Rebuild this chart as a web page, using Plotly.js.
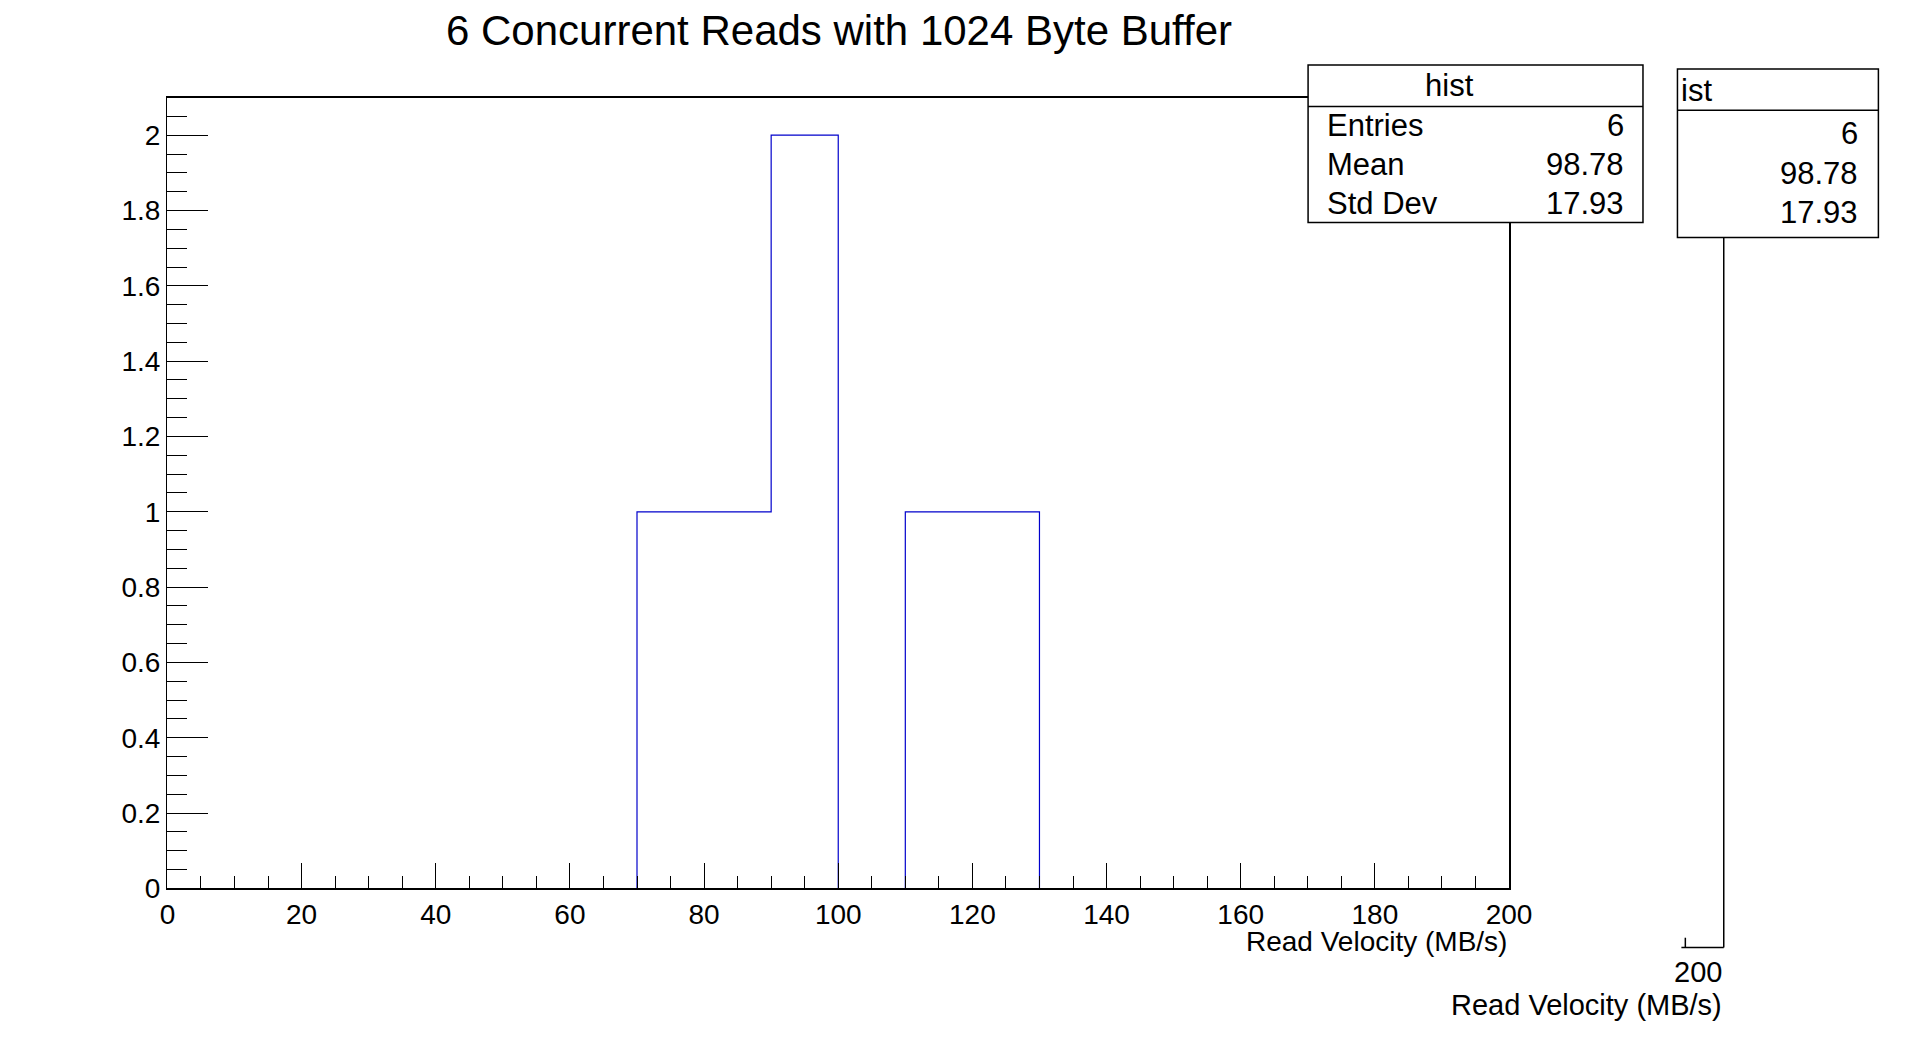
<!DOCTYPE html>
<html><head><meta charset="utf-8">
<script src="https://cdn.plot.ly/plotly-3.0.1.min.js"></script>
<style>html,body{margin:0;padding:0;background:#fff}#c{width:1918px;height:1054px}</style>
</head><body><div id="c"></div>
<script>
// histogram: 20 bins of 10 MB/s between 0 and 200
const binEdges = [0,10,20,30,40,50,60,70,80,90,100,110,120,130,140,150,160,170,180,190,200];
const binCounts = [0,0,0,0,0,0,0,1,1,2,0,1,1,0,0,0,0,0,0,0];
const statLabels = ['Entries', 'Mean', 'Std Dev'];
const statValues = ['6', '98.78', '17.93'];

const W = 1918, H = 1054, S = 0.985;
const px = x => x * S / W, py = y => 1 - y * S / H;
const F = 'Liberation Sans, Arial, sans-serif';

// step outline
const sx = [], sy = [];
binCounts.forEach((c, i) => { sx.push(binEdges[i]); sy.push(c); });
sx.push(binEdges[binEdges.length - 1]); sy.push(binCounts[binCounts.length - 1]);

const shapes = [
  // stat box
  {type:'rect', xref:'paper', yref:'paper', x0:px(1328), x1:px(1668), y0:py(226), y1:py(66), line:{color:'#000',width:1.5}, fillcolor:'#fff', layer:'above'},
  {type:'line', xref:'paper', yref:'paper', x0:px(1328), x1:px(1668), y0:py(108), y1:py(108), line:{color:'#000',width:1.5}, layer:'above'},
  // ghost box
  {type:'rect', xref:'paper', yref:'paper', x0:px(1703), x1:px(1907), y0:py(241), y1:py(70), line:{color:'#000',width:1.5}, fillcolor:'#fff'},
  {type:'line', xref:'paper', yref:'paper', x0:px(1703), x1:px(1907), y0:py(112), y1:py(112), line:{color:'#000',width:1.5}},
  {type:'line', xref:'paper', yref:'paper', x0:px(1750), x1:px(1750), y0:py(241), y1:py(962), line:{color:'#000',width:1.5}},
  {type:'line', xref:'paper', yref:'paper', x0:px(1707), x1:px(1750), y0:py(962), y1:py(962), line:{color:'#000',width:1.5}},
  {type:'line', xref:'paper', yref:'paper', x0:px(1711), x1:px(1711), y0:py(952), y1:py(962), line:{color:'#000',width:1.5}}
];

const ann = [
  {text:'6 Concurrent Reads with 1024 Byte Buffer', x:px(852), y:py(31), font:{size:42}},
  {text:'Read Velocity (MB/s)', x:px(1532), y:py(956), xanchor:'right', font:{size:28}},
  {text:'hist', x:px(1498), y:py(87), font:{size:31}},
  {text:'ist', x:px(1705), y:py(92), xanchor:'left', font:{size:31}},
  {text:'200', x:px(1750), y:py(987), font:{size:29}},
  {text:'Read Velocity (MB/s)', x:px(1750), y:py(1020), xanchor:'right', font:{size:29}}
];
statLabels.forEach((l, i) => {
  const y = 127 + i * 40;
  ann.push({text:l, x:px(1345), y:py(y), xanchor:'left', font:{size:31}});
  ann.push({text:statValues[i], x:px(1651), y:py(y), xanchor:'right', font:{size:31}});
  ann.push({text:statValues[i], x:px(1888), y:py(y + 9), xanchor:'right', font:{size:31}});
});
ann.forEach(a => { a.xref = 'paper'; a.yref = 'paper'; a.showarrow = false; a.yanchor = 'middle'; a.font.family = F; a.font.color = '#000'; });

Plotly.newPlot('c', [{
  type:'scatter', mode:'lines', x:sx, y:sy, line:{shape:'hv', color:'#0000cc', width:1.2}, hoverinfo:'skip'
}], {
  width:W, height:H, margin:{l:0,r:0,t:0,b:0}, showlegend:false,
  paper_bgcolor:'#fff', plot_bgcolor:'#fff', font:{family:F, color:'#000'},
  xaxis:{domain:[px(170), px(1532)], range:[0,200], showgrid:false, zeroline:false, layer:'above traces',
    showline:true, mirror:true, linecolor:'#000', linewidth:1.5,
    ticks:'inside', ticklen:25, tickcolor:'#000', dtick:20, tick0:0,
    minor:{ticks:'inside', ticklen:12, dtick:5, tickcolor:'#000', showgrid:false},
    tickfont:{size:28}},
  yaxis:{domain:[py(902), py(99)], range:[0,2.1], showgrid:false, zeroline:false, layer:'above traces',
    showline:true, mirror:true, linecolor:'#000', linewidth:1.5,
    ticks:'inside', ticklen:41, tickcolor:'#000', dtick:0.2, tick0:0,
    minor:{ticks:'inside', ticklen:20, dtick:0.05, tickcolor:'#000', showgrid:false},
    tickfont:{size:28}},
  shapes:shapes, annotations:ann
}, {displayModeBar:false, staticPlot:true});
</script></body></html>
